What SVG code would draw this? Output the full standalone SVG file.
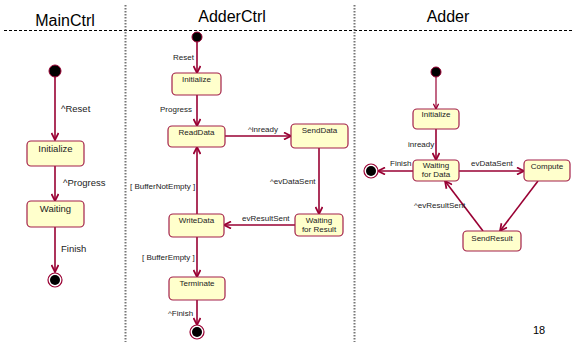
<svg xmlns="http://www.w3.org/2000/svg" width="573" height="345" viewBox="0 0 573 345">
  <style>
    .title { font-family: "Liberation Sans", Arial, sans-serif; font-size: 16px; fill: #000; }
    .lbl { font-family: "Liberation Sans", Arial, sans-serif; font-size: 8px; fill: #222; }
    .lbl-l { font-family: "Liberation Sans", Arial, sans-serif; font-size: 9.5px; fill: #222; }
    .st { font-family: "Liberation Sans", Arial, sans-serif; font-size: 8px; fill: #222; text-anchor: middle; }
    .st-l { font-family: "Liberation Sans", Arial, sans-serif; font-size: 9.5px; fill: #222; text-anchor: middle; }
    .box { fill: #FFFFCC; stroke: #A3204A; stroke-width: 1.2; }
    .edge { stroke: #990033; stroke-width: 1.6; fill: none; marker-end: url(#arr); }
    .edge-thin { stroke: #990033; stroke-width: 1.2; fill: none; marker-end: url(#arr); }
    .init { fill: #000; stroke: #990033; stroke-width: 1; }
    .fin-o { fill: #fff; stroke: #990033; stroke-width: 1.2; }
    .fin-i { fill: #000; }
    .sep { stroke: #000; stroke-width: 1; stroke-dasharray: 3 2; fill: none; }
    .vsep { stroke: #777; stroke-width: 2; stroke-dasharray: 1.5 1.5; fill: none; }
    .num { font-family: "Liberation Sans", Arial, sans-serif; font-size: 11px; fill: #000; }
  </style>
  <defs>
    <marker id="arr" viewBox="0 0 10 10" refX="9" refY="5" markerWidth="5.5" markerHeight="5.5" orient="auto" markerUnits="strokeWidth">
      <path d="M1,1 L9,5 L1,9" fill="none" stroke="#990033" stroke-width="2"/>
    </marker>
  </defs>

  <rect width="573" height="345" fill="#fff"/>

  <!-- swimlane headers and separators -->
  <g id="lanes">
    <line class="sep" x1="4" y1="30.5" x2="573" y2="30.5"/>
    <line class="vsep" x1="125.5" y1="5" x2="125.5" y2="342"/>
    <line class="vsep" x1="354.5" y1="5" x2="354.5" y2="342"/>
    <text class="title" x="65" y="26" text-anchor="middle">MainCtrl</text>
    <text class="title" x="232" y="22" text-anchor="middle">AdderCtrl</text>
    <text class="title" x="448" y="22" text-anchor="middle">Adder</text>
  </g>

  <!-- transitions -->
  <g id="connectors">
    <!-- MainCtrl -->
    <line class="edge" x1="55" y1="77" x2="55" y2="140"/>
    <line class="edge" x1="55" y1="166" x2="55" y2="201"/>
    <line class="edge" x1="55" y1="227" x2="55" y2="272"/>
    <text class="lbl-l" x="61" y="112">^Reset</text>
    <text class="lbl-l" x="63" y="186">^Progress</text>
    <text class="lbl-l" x="61" y="252">Finish</text>

    <!-- AdderCtrl -->
    <line class="edge" x1="197" y1="42" x2="197" y2="73"/>
    <line class="edge" x1="197" y1="95" x2="197" y2="126"/>
    <line class="edge" x1="225" y1="136" x2="291" y2="136"/>
    <line class="edge" x1="319" y1="148" x2="319" y2="214"/>
    <line class="edge" x1="295" y1="225" x2="224" y2="225"/>
    <line class="edge" x1="197" y1="214" x2="197" y2="147"/>
    <line class="edge" x1="197" y1="237" x2="197" y2="277"/>
    <line class="edge" x1="197" y1="300" x2="197" y2="325"/>
    <text class="lbl" x="173" y="60">Reset</text>
    <text class="lbl" x="160" y="112">Progress</text>
    <text class="lbl" x="248" y="132">^inready</text>
    <text class="lbl" x="270" y="184">^evDataSent</text>
    <text class="lbl" x="242" y="221">evResultSent</text>
    <text class="lbl" x="130" y="189">[ BufferNotEmpty ]</text>
    <text class="lbl" x="142" y="260">[ BufferEmpty ]</text>
    <text class="lbl" x="168" y="316">^Finish</text>

    <!-- Adder -->
    <line class="edge-thin" x1="436" y1="77" x2="436" y2="109"/>
    <line class="edge" x1="436" y1="129" x2="436" y2="160"/>
    <line class="edge" x1="459" y1="171" x2="524" y2="171"/>
    <line class="edge" x1="413" y1="171" x2="378" y2="171"/>
    <line class="edge" x1="538" y1="181" x2="500" y2="231"/>
    <line class="edge" x1="483" y1="231" x2="445" y2="181"/>
    <text class="lbl" x="408" y="147">inready</text>
    <text class="lbl" x="390" y="166">Finish</text>
    <text class="lbl" x="471" y="166">evDataSent</text>
    <text class="lbl" x="414" y="208">^evResultSent</text>
  </g>

  <!-- MainCtrl states -->
  <g id="mc-init"><circle class="init" cx="55" cy="71" r="6"/></g>
  <g id="mc-initialize">
    <rect class="box" x="27" y="141" width="57" height="25" rx="4"/>
    <text class="st-l" x="55.5" y="152">Initialize</text>
  </g>
  <g id="mc-waiting">
    <rect class="box" x="27" y="201" width="57" height="26" rx="4"/>
    <text class="st-l" x="55.5" y="212">Waiting</text>
  </g>
  <g id="mc-final">
    <circle class="fin-o" cx="55" cy="280" r="7"/>
    <circle class="fin-i" cx="55" cy="280" r="5"/>
  </g>

  <!-- AdderCtrl states -->
  <g id="ac-init"><circle class="init" cx="197" cy="37" r="5"/></g>
  <g id="ac-initialize">
    <rect class="box" x="172" y="73" width="49" height="22" rx="4"/>
    <text class="st" x="196.5" y="82">Initialize</text>
  </g>
  <g id="ac-readdata">
    <rect class="box" x="168" y="126" width="57" height="21" rx="4"/>
    <text class="st" x="196.5" y="135">ReadData</text>
  </g>
  <g id="ac-senddata">
    <rect class="box" x="291" y="124" width="57" height="24" rx="4"/>
    <text class="st" x="319.5" y="133">SendData</text>
  </g>
  <g id="ac-waitresult">
    <rect class="box" x="295" y="214" width="48" height="22" rx="4"/>
    <text class="st" x="319" y="223">Waiting</text>
    <text class="st" x="319" y="232">for Result</text>
  </g>
  <g id="ac-writedata">
    <rect class="box" x="169" y="214" width="55" height="23" rx="4"/>
    <text class="st" x="196.5" y="223">WriteData</text>
  </g>
  <g id="ac-terminate">
    <rect class="box" x="169" y="277" width="56" height="23" rx="4"/>
    <text class="st" x="197" y="286">Terminate</text>
  </g>
  <g id="ac-final">
    <circle class="fin-o" cx="197" cy="332" r="7"/>
    <circle class="fin-i" cx="197" cy="332" r="5"/>
  </g>

  <!-- Adder states -->
  <g id="ad-init"><circle class="init" cx="436" cy="72" r="5"/></g>
  <g id="ad-initialize">
    <rect class="box" x="413" y="109" width="46" height="20" rx="4"/>
    <text class="st" x="436" y="117">Initialize</text>
  </g>
  <g id="ad-waitdata">
    <rect class="box" x="413" y="160" width="46" height="21" rx="4"/>
    <text class="st" x="436" y="168">Waiting</text>
    <text class="st" x="436" y="177">for Data</text>
  </g>
  <g id="ad-compute">
    <rect class="box" x="524" y="160" width="46" height="21" rx="4"/>
    <text class="st" x="547" y="169">Compute</text>
  </g>
  <g id="ad-sendresult">
    <rect class="box" x="463" y="231" width="58" height="20" rx="4"/>
    <text class="st" x="492" y="241">SendResult</text>
  </g>
  <g id="ad-final">
    <circle class="fin-o" cx="371" cy="171" r="7"/>
    <circle class="fin-i" cx="371" cy="171" r="5"/>
  </g>

  <text class="num" x="533" y="334">18</text>
</svg>
